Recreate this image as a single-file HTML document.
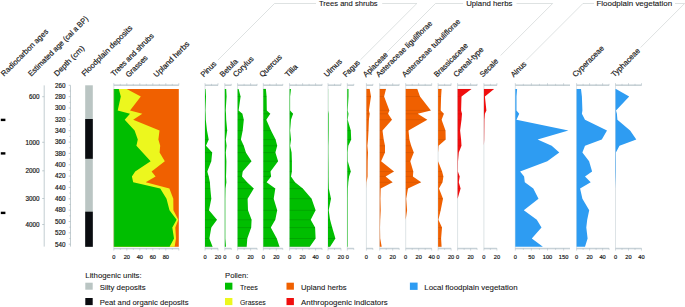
<!DOCTYPE html>
<html><head><meta charset="utf-8"><title>Pollen diagram</title>
<style>
html,body{margin:0;padding:0;background:#fff;}
body{width:685px;height:307px;overflow:hidden;font-family:"Liberation Sans",sans-serif;}
svg{display:block;}
text{font-family:"Liberation Sans",sans-serif;fill:#141414;stroke:#141414;stroke-width:0.18px;}
.ax{font-size:5.7px;}
.dp{font-size:6.3px;}
.hd{font-size:7.7px;}
.gp{font-size:7.8px;stroke-width:0.1px;}
.lg{font-size:7.7px;stroke-width:0.08px;}
</style></head><body>
<svg width="685" height="307" viewBox="0 0 685 307">
<rect x="0.8" y="118.7" width="4.6" height="2.4" fill="#000"/>
<rect x="0.8" y="152.2" width="4.6" height="2.4" fill="#000"/>
<rect x="0.8" y="211.7" width="4.6" height="2.4" fill="#000"/>
<path d="M44.2 85.4V246.6" stroke="#a9b8bd" stroke-width="0.7" fill="none"/>
<path d="M42.2 96.7H44.2" stroke="#a9b8bd" stroke-width="0.7"/>
<text x="39.5" y="99.0" class="dp" text-anchor="end">600</text>
<path d="M42.2 142.3H44.2" stroke="#a9b8bd" stroke-width="0.7"/>
<text x="39.5" y="144.6" class="dp" text-anchor="end">1000</text>
<path d="M42.2 170.8H44.2" stroke="#a9b8bd" stroke-width="0.7"/>
<text x="39.5" y="173.1" class="dp" text-anchor="end">2000</text>
<path d="M42.2 198.5H44.2" stroke="#a9b8bd" stroke-width="0.7"/>
<text x="39.5" y="200.8" class="dp" text-anchor="end">3000</text>
<path d="M42.2 224.5H44.2" stroke="#a9b8bd" stroke-width="0.7"/>
<text x="39.5" y="226.8" class="dp" text-anchor="end">4000</text>
<path d="M70.5 85.4V246.6" stroke="#a9b8bd" stroke-width="0.7" fill="none"/>
<path d="M70.5 85.30h-1.8M70.5 90.97h-1.1M70.5 96.65h-1.8M70.5 102.32h-1.1M70.5 108.00h-1.8M70.5 113.67h-1.1M70.5 119.35h-1.8M70.5 125.03h-1.1M70.5 130.70h-1.8M70.5 136.38h-1.1M70.5 142.05h-1.8M70.5 147.72h-1.1M70.5 153.40h-1.8M70.5 159.07h-1.1M70.5 164.75h-1.8M70.5 170.43h-1.1M70.5 176.10h-1.8M70.5 181.77h-1.1M70.5 187.45h-1.8M70.5 193.12h-1.1M70.5 198.80h-1.8M70.5 204.47h-1.1M70.5 210.15h-1.8M70.5 215.82h-1.1M70.5 221.50h-1.8M70.5 227.18h-1.1M70.5 232.85h-1.8M70.5 238.52h-1.1M70.5 244.20h-1.8" stroke="#a9b8bd" stroke-width="0.7" fill="none"/>
<text x="60.3" y="87.6" class="dp" text-anchor="middle">260</text>
<text x="60.3" y="98.9" class="dp" text-anchor="middle">280</text>
<text x="60.3" y="110.3" class="dp" text-anchor="middle">300</text>
<text x="60.3" y="121.6" class="dp" text-anchor="middle">320</text>
<text x="60.3" y="133.0" class="dp" text-anchor="middle">340</text>
<text x="60.3" y="144.4" class="dp" text-anchor="middle">360</text>
<text x="60.3" y="155.7" class="dp" text-anchor="middle">380</text>
<text x="60.3" y="167.1" class="dp" text-anchor="middle">400</text>
<text x="60.3" y="178.4" class="dp" text-anchor="middle">420</text>
<text x="60.3" y="189.8" class="dp" text-anchor="middle">440</text>
<text x="60.3" y="201.1" class="dp" text-anchor="middle">460</text>
<text x="60.3" y="212.4" class="dp" text-anchor="middle">480</text>
<text x="60.3" y="223.8" class="dp" text-anchor="middle">500</text>
<text x="60.3" y="235.1" class="dp" text-anchor="middle">520</text>
<text x="60.3" y="246.5" class="dp" text-anchor="middle">540</text>
<rect x="85.2" y="85.3" width="7.6" height="161.5" fill="#bac5c3"/>
<rect x="85.2" y="119.0" width="7.6" height="39.8" fill="#0a0c10"/>
<rect x="85.2" y="211.7" width="7.6" height="35.1" fill="#0a0c10"/>
<rect x="113.8" y="89.0" width="65.0" height="157.8" fill="#f06000"/>
<path d="M113.8 89.0L126.7 89.0L140.8 96.5L130.0 110.4L142.3 113.8L133.2 119.7L159.5 130.6L158.4 139.6L160.2 145.8L159.6 152.6L164.8 161.2L151.6 171.6L155.6 176.4L145.7 182.3L169.4 188.6L173.3 198.7L173.4 210.3L178.3 219.8L175.3 227.6L176.0 238.5L174.6 246.8L113.8 246.8Z" fill="#ecf71e"/>
<path d="M113.8 89.0L118.8 89.0L120.8 96.5L117.7 110.4L130.0 113.8L124.7 119.7L134.6 130.6L137.8 139.6L136.4 145.8L142.6 152.6L150.6 161.2L135.2 171.6L131.9 176.4L133.2 182.3L160.2 188.6L166.5 198.7L169.5 210.3L176.6 219.8L172.3 227.6L174.0 238.5L169.6 246.8L113.8 246.8Z" fill="#00be00"/>
<path d="M113.8 85.4H178.8M113.8 248.3H178.8" stroke="#a9b9c1" stroke-width="0.7" fill="none"/>
<path d="M113.8 85.4V248.3" stroke="#a9b9c1" stroke-width="0.5" fill="none" opacity="0.8"/>
<path d="M113.8 84.7H178.8M113.8 249.0H178.8" stroke="#a9b9c1" stroke-width="0.9" fill="none" opacity="0.45"/>
<path d="M113.80 85.4v-2.3M113.80 248.3v2.3M120.30 85.4v-1.6M120.30 248.3v1.6M126.80 85.4v-2.3M126.80 248.3v2.3M133.30 85.4v-1.6M133.30 248.3v1.6M139.80 85.4v-2.3M139.80 248.3v2.3M146.30 85.4v-1.6M146.30 248.3v1.6M152.80 85.4v-2.3M152.80 248.3v2.3M159.30 85.4v-1.6M159.30 248.3v1.6M165.80 85.4v-2.3M165.80 248.3v2.3M172.30 85.4v-1.6M172.30 248.3v1.6M178.80 85.4v-2.3M178.80 248.3v2.3" stroke="#a9b9c1" stroke-width="0.5" fill="none"/>
<text x="113.8" y="258.5" class="ax" text-anchor="middle">0</text>
<text x="126.8" y="258.5" class="ax" text-anchor="middle">20</text>
<text x="139.8" y="258.5" class="ax" text-anchor="middle">40</text>
<text x="152.8" y="258.5" class="ax" text-anchor="middle">60</text>
<text x="165.8" y="258.5" class="ax" text-anchor="middle">80</text>
<path d="M205.0 85.4H218.0M205.0 248.3H218.0" stroke="#a9b9c1" stroke-width="0.7" fill="none"/>
<path d="M205.0 85.4V248.3" stroke="#a9b9c1" stroke-width="0.5" fill="none" opacity="0.8"/>
<path d="M205.0 84.7H218.0M205.0 249.0H218.0" stroke="#a9b9c1" stroke-width="0.9" fill="none" opacity="0.45"/>
<path d="M205.00 85.4v-2.3M205.00 248.3v2.3M211.50 85.4v-1.6M211.50 248.3v1.6M218.00 85.4v-2.3M218.00 248.3v2.3" stroke="#a9b9c1" stroke-width="0.5" fill="none"/>
<text x="205.0" y="258.5" class="ax" text-anchor="middle">0</text>
<text x="218.0" y="258.5" class="ax" text-anchor="middle">20</text>
<path d="M205.0 89.0L205.5 89.0L206.0 96.5L205.4 110.4L205.6 113.8L205.8 119.7L207.0 130.6L208.7 139.6L206.0 145.8L212.2 152.6L211.3 161.2L207.3 171.6L208.7 176.4L209.9 182.3L210.3 188.6L211.3 198.7L209.0 210.3L217.0 219.8L211.3 227.6L209.4 238.5L212.6 246.8L205.0 246.8Z" fill="#00be00"/>
<path d="M205.0 139.6h3.7M205.0 152.6h7.2M205.0 161.2h6.3M205.0 171.6h2.3M205.0 176.4h3.7M205.0 182.3h4.9M205.0 188.6h5.3M205.0 198.7h6.3M205.0 210.3h4.0M205.0 219.8h12.0M205.0 227.6h6.3M205.0 238.5h4.4M205.0 246.8h7.6" stroke="#000" stroke-opacity="0.32" stroke-width="0.4" fill="none"/>
<text transform="translate(203.7 77.6) rotate(-45)" class="hd" textLength="18.6" lengthAdjust="spacingAndGlyphs">Pinus</text>
<path d="M224.8 85.4H231.3M224.8 248.3H231.3" stroke="#a9b9c1" stroke-width="0.7" fill="none"/>
<path d="M224.8 85.4V248.3" stroke="#a9b9c1" stroke-width="0.5" fill="none" opacity="0.8"/>
<path d="M224.8 84.7H231.3M224.8 249.0H231.3" stroke="#a9b9c1" stroke-width="0.9" fill="none" opacity="0.45"/>
<path d="M224.80 85.4v-2.3M224.80 248.3v2.3M231.30 85.4v-1.6M231.30 248.3v1.6" stroke="#a9b9c1" stroke-width="0.5" fill="none"/>
<text x="224.8" y="258.5" class="ax" text-anchor="middle">0</text>
<path d="M224.8 89.0L226.2 89.0L226.6 96.5L225.7 110.4L226.0 113.8L226.2 119.7L227.2 130.6L225.8 139.6L226.6 145.8L225.8 152.6L226.4 161.2L226.2 171.6L226.0 176.4L226.4 182.3L225.5 188.6L225.3 198.7L225.3 210.3L225.3 219.8L225.3 227.6L225.3 238.5L226.0 246.8L224.8 246.8Z" fill="#00be00"/>
<path d="M224.8 130.6h2.4" stroke="#000" stroke-opacity="0.32" stroke-width="0.4" fill="none"/>
<text transform="translate(222.8 77.6) rotate(-45)" class="hd" textLength="22.0" lengthAdjust="spacingAndGlyphs">Betula</text>
<path d="M237.6 85.4H257.1M237.6 248.3H257.1" stroke="#a9b9c1" stroke-width="0.7" fill="none"/>
<path d="M237.6 85.4V248.3" stroke="#a9b9c1" stroke-width="0.5" fill="none" opacity="0.8"/>
<path d="M237.6 84.7H257.1M237.6 249.0H257.1" stroke="#a9b9c1" stroke-width="0.9" fill="none" opacity="0.45"/>
<path d="M237.60 85.4v-2.3M237.60 248.3v2.3M244.10 85.4v-1.6M244.10 248.3v1.6M250.60 85.4v-2.3M250.60 248.3v2.3M257.10 85.4v-1.6M257.10 248.3v1.6" stroke="#a9b9c1" stroke-width="0.5" fill="none"/>
<text x="237.6" y="258.5" class="ax" text-anchor="middle">0</text>
<text x="250.6" y="258.5" class="ax" text-anchor="middle">20</text>
<path d="M237.6 89.0L238.6 89.0L240.6 96.5L238.6 110.4L242.4 113.8L243.8 119.7L242.7 130.6L240.9 139.6L243.8 145.8L245.9 152.6L251.5 161.2L242.7 171.6L242.0 176.4L247.1 182.3L253.8 188.6L247.6 198.7L248.0 210.3L251.6 219.8L251.2 227.6L247.3 238.5L246.7 246.8L237.6 246.8Z" fill="#00be00"/>
<path d="M237.6 96.5h3.0M237.6 113.8h4.8M237.6 119.7h6.2M237.6 130.6h5.1M237.6 139.6h3.3M237.6 145.8h6.2M237.6 152.6h8.3M237.6 161.2h13.9M237.6 171.6h5.1M237.6 176.4h4.4M237.6 182.3h9.5M237.6 188.6h16.2M237.6 198.7h10.0M237.6 210.3h10.4M237.6 219.8h14.0M237.6 227.6h13.6M237.6 238.5h9.7M237.6 246.8h9.1" stroke="#000" stroke-opacity="0.32" stroke-width="0.4" fill="none"/>
<text transform="translate(236.0 77.6) rotate(-45)" class="hd" textLength="25.7" lengthAdjust="spacingAndGlyphs">Corylus</text>
<path d="M263.3 85.4H282.8M263.3 248.3H282.8" stroke="#a9b9c1" stroke-width="0.7" fill="none"/>
<path d="M263.3 85.4V248.3" stroke="#a9b9c1" stroke-width="0.5" fill="none" opacity="0.8"/>
<path d="M263.3 84.7H282.8M263.3 249.0H282.8" stroke="#a9b9c1" stroke-width="0.9" fill="none" opacity="0.45"/>
<path d="M263.30 85.4v-2.3M263.30 248.3v2.3M269.80 85.4v-1.6M269.80 248.3v1.6M276.30 85.4v-2.3M276.30 248.3v2.3M282.80 85.4v-1.6M282.80 248.3v1.6" stroke="#a9b9c1" stroke-width="0.5" fill="none"/>
<text x="263.3" y="258.5" class="ax" text-anchor="middle">0</text>
<text x="276.3" y="258.5" class="ax" text-anchor="middle">20</text>
<path d="M263.3 89.0L265.9 89.0L266.6 96.5L266.8 110.4L270.3 113.8L266.3 119.7L271.0 130.6L275.6 139.6L277.2 145.8L275.4 152.6L278.1 161.2L270.5 171.6L271.1 176.4L266.6 182.3L275.3 188.6L273.7 198.7L277.2 210.3L275.3 219.8L270.8 227.6L276.8 238.5L279.5 246.8L263.3 246.8Z" fill="#00be00"/>
<path d="M263.3 89.0h2.6M263.3 96.5h3.3M263.3 110.4h3.5M263.3 113.8h7.0M263.3 119.7h3.0M263.3 130.6h7.7M263.3 139.6h12.3M263.3 145.8h13.9M263.3 152.6h12.1M263.3 161.2h14.8M263.3 171.6h7.2M263.3 176.4h7.8M263.3 182.3h3.3M263.3 188.6h12.0M263.3 198.7h10.4M263.3 210.3h13.9M263.3 219.8h12.0M263.3 227.6h7.5M263.3 238.5h13.5M263.3 246.8h16.2" stroke="#000" stroke-opacity="0.32" stroke-width="0.4" fill="none"/>
<text transform="translate(262.4 77.6) rotate(-45)" class="hd" textLength="28.4" lengthAdjust="spacingAndGlyphs">Quercus</text>
<path d="M289.6 85.4H322.1M289.6 248.3H322.1" stroke="#a9b9c1" stroke-width="0.7" fill="none"/>
<path d="M289.6 85.4V248.3" stroke="#a9b9c1" stroke-width="0.5" fill="none" opacity="0.8"/>
<path d="M289.6 84.7H322.1M289.6 249.0H322.1" stroke="#a9b9c1" stroke-width="0.9" fill="none" opacity="0.45"/>
<path d="M289.60 85.4v-2.3M289.60 248.3v2.3M296.10 85.4v-1.6M296.10 248.3v1.6M302.60 85.4v-2.3M302.60 248.3v2.3M309.10 85.4v-1.6M309.10 248.3v1.6M315.60 85.4v-2.3M315.60 248.3v2.3M322.10 85.4v-1.6M322.10 248.3v1.6" stroke="#a9b9c1" stroke-width="0.5" fill="none"/>
<text x="289.6" y="258.5" class="ax" text-anchor="middle">0</text>
<text x="302.6" y="258.5" class="ax" text-anchor="middle">20</text>
<text x="315.6" y="258.5" class="ax" text-anchor="middle">40</text>
<path d="M289.6 89.0L291.0 89.0L290.1 96.5L290.1 110.4L293.1 113.8L291.0 119.7L290.1 130.6L291.0 139.6L290.1 145.8L291.6 152.6L291.9 161.2L291.9 171.6L291.0 176.4L295.0 182.3L302.8 188.6L311.6 198.7L315.6 210.3L310.7 219.8L315.1 227.6L315.6 238.5L309.8 246.8L289.6 246.8Z" fill="#00be00"/>
<path d="M289.6 113.8h3.5M289.6 161.2h2.3M289.6 171.6h2.3M289.6 182.3h5.4M289.6 188.6h13.2M289.6 198.7h22.0M289.6 210.3h26.0M289.6 219.8h21.1M289.6 227.6h25.5M289.6 238.5h26.0M289.6 246.8h20.2" stroke="#000" stroke-opacity="0.32" stroke-width="0.4" fill="none"/>
<text transform="translate(287.9 77.6) rotate(-45)" class="hd" textLength="14.4" lengthAdjust="spacingAndGlyphs">Tilia</text>
<path d="M328.0 85.4H341.0M328.0 248.3H341.0" stroke="#a9b9c1" stroke-width="0.7" fill="none"/>
<path d="M328.0 85.4V248.3" stroke="#a9b9c1" stroke-width="0.5" fill="none" opacity="0.8"/>
<path d="M328.0 84.7H341.0M328.0 249.0H341.0" stroke="#a9b9c1" stroke-width="0.9" fill="none" opacity="0.45"/>
<path d="M328.00 85.4v-2.3M328.00 248.3v2.3M334.50 85.4v-1.6M334.50 248.3v1.6M341.00 85.4v-2.3M341.00 248.3v2.3" stroke="#a9b9c1" stroke-width="0.5" fill="none"/>
<text x="328.0" y="258.5" class="ax" text-anchor="middle">0</text>
<text x="341.0" y="258.5" class="ax" text-anchor="middle">20</text>
<path d="M328.0 89.0L328.1 89.0L328.1 96.5L328.1 110.4L328.6 113.8L328.6 119.7L328.6 130.6L328.5 139.6L328.3 145.8L328.3 152.6L328.4 161.2L328.5 171.6L328.5 176.4L328.6 182.3L328.8 188.6L331.0 198.7L328.7 210.3L330.1 219.8L332.2 227.6L335.4 238.5L330.1 246.8L328.0 246.8Z" fill="#00be00"/>
<path d="M328.0 198.7h3.0M328.0 219.8h2.1M328.0 227.6h4.2M328.0 238.5h7.4M328.0 246.8h2.1" stroke="#000" stroke-opacity="0.32" stroke-width="0.4" fill="none"/>
<text transform="translate(326.9 77.6) rotate(-45)" class="hd" textLength="22.2" lengthAdjust="spacingAndGlyphs">Ulmus</text>
<path d="M347.3 85.4H353.8M347.3 248.3H353.8" stroke="#a9b9c1" stroke-width="0.7" fill="none"/>
<path d="M347.3 85.4V248.3" stroke="#a9b9c1" stroke-width="0.5" fill="none" opacity="0.8"/>
<path d="M347.3 84.7H353.8M347.3 249.0H353.8" stroke="#a9b9c1" stroke-width="0.9" fill="none" opacity="0.45"/>
<path d="M347.30 85.4v-2.3M347.30 248.3v2.3M353.80 85.4v-1.6M353.80 248.3v1.6" stroke="#a9b9c1" stroke-width="0.5" fill="none"/>
<text x="347.3" y="258.5" class="ax" text-anchor="middle">0</text>
<path d="M347.3 89.0L348.5 89.0L348.5 96.5L347.7 110.4L348.5 113.8L347.7 119.7L350.8 130.6L351.2 139.6L348.3 145.8L347.7 152.6L347.8 161.2L350.8 171.6L349.1 176.4L348.3 182.3L347.9 188.6L347.8 198.7L347.8 210.3L347.8 219.8L347.8 227.6L347.8 238.5L347.8 246.8L347.3 246.8Z" fill="#00be00"/>
<path d="M347.3 130.6h3.5M347.3 139.6h3.9M347.3 171.6h3.5" stroke="#000" stroke-opacity="0.32" stroke-width="0.4" fill="none"/>
<text transform="translate(345.9 77.6) rotate(-45)" class="hd" textLength="20.6" lengthAdjust="spacingAndGlyphs">Fagus</text>
<path d="M366.4 85.4H372.9M366.4 248.3H372.9" stroke="#a9b9c1" stroke-width="0.7" fill="none"/>
<path d="M366.4 85.4V248.3" stroke="#a9b9c1" stroke-width="0.5" fill="none" opacity="0.8"/>
<path d="M366.4 84.7H372.9M366.4 249.0H372.9" stroke="#a9b9c1" stroke-width="0.9" fill="none" opacity="0.45"/>
<path d="M366.40 85.4v-2.3M366.40 248.3v2.3M372.90 85.4v-1.6M372.90 248.3v1.6" stroke="#a9b9c1" stroke-width="0.5" fill="none"/>
<text x="366.4" y="258.5" class="ax" text-anchor="middle">0</text>
<path d="M366.4 89.0L369.7 89.0L371.0 96.5L368.9 110.4L369.7 113.8L368.9 119.7L368.5 130.6L368.0 139.6L367.4 145.8L368.0 152.6L367.7 161.2L367.6 171.6L367.6 176.4L366.6 182.3L366.4 188.6L366.4 198.7L366.4 210.3L366.4 219.8L366.4 227.6L366.4 238.5L366.4 246.8L366.4 246.8Z" fill="#f06000"/>
<path d="M366.4 89.0h3.3M366.4 96.5h4.6M366.4 110.4h2.5M366.4 113.8h3.3M366.4 119.7h2.5M366.4 130.6h2.1" stroke="#000" stroke-opacity="0.2" stroke-width="0.4" fill="none"/>
<text transform="translate(366.1 77.6) rotate(-45)" class="hd" textLength="31.4" lengthAdjust="spacingAndGlyphs">Apiaceae</text>
<path d="M379.7 85.4H399.2M379.7 248.3H399.2" stroke="#a9b9c1" stroke-width="0.7" fill="none"/>
<path d="M379.7 85.4V248.3" stroke="#a9b9c1" stroke-width="0.5" fill="none" opacity="0.8"/>
<path d="M379.7 84.7H399.2M379.7 249.0H399.2" stroke="#a9b9c1" stroke-width="0.9" fill="none" opacity="0.45"/>
<path d="M379.70 85.4v-2.3M379.70 248.3v2.3M386.20 85.4v-1.6M386.20 248.3v1.6M392.70 85.4v-2.3M392.70 248.3v2.3M399.20 85.4v-1.6M399.20 248.3v1.6" stroke="#a9b9c1" stroke-width="0.5" fill="none"/>
<text x="379.7" y="258.5" class="ax" text-anchor="middle">0</text>
<text x="392.7" y="258.5" class="ax" text-anchor="middle">20</text>
<path d="M379.7 89.0L386.0 89.0L384.1 96.5L389.4 110.4L388.1 113.8L392.0 119.7L382.5 130.6L383.7 139.6L385.0 145.8L385.0 152.6L381.1 161.2L394.0 171.6L385.6 176.4L392.6 182.3L380.7 188.6L380.4 198.7L380.7 210.3L380.2 219.8L380.0 227.6L380.2 238.5L381.7 246.8L379.7 246.8Z" fill="#f06000"/>
<path d="M379.7 89.0h6.3M379.7 96.5h4.4M379.7 110.4h9.7M379.7 113.8h8.4M379.7 119.7h12.3M379.7 130.6h2.8M379.7 139.6h4.0M379.7 145.8h5.3M379.7 152.6h5.3M379.7 171.6h14.3M379.7 176.4h5.9M379.7 182.3h12.9" stroke="#000" stroke-opacity="0.2" stroke-width="0.4" fill="none"/>
<text transform="translate(379.1 77.6) rotate(-45)" class="hd" textLength="75.9" lengthAdjust="spacingAndGlyphs">Asteraceae liguliflorae</text>
<path d="M405.7 85.4H431.7M405.7 248.3H431.7" stroke="#a9b9c1" stroke-width="0.7" fill="none"/>
<path d="M405.7 85.4V248.3" stroke="#a9b9c1" stroke-width="0.5" fill="none" opacity="0.8"/>
<path d="M405.7 84.7H431.7M405.7 249.0H431.7" stroke="#a9b9c1" stroke-width="0.9" fill="none" opacity="0.45"/>
<path d="M405.70 85.4v-2.3M405.70 248.3v2.3M412.20 85.4v-1.6M412.20 248.3v1.6M418.70 85.4v-2.3M418.70 248.3v2.3M425.20 85.4v-1.6M425.20 248.3v1.6M431.70 85.4v-2.3M431.70 248.3v2.3" stroke="#a9b9c1" stroke-width="0.5" fill="none"/>
<text x="405.7" y="258.5" class="ax" text-anchor="middle">0</text>
<text x="418.7" y="258.5" class="ax" text-anchor="middle">20</text>
<text x="431.7" y="258.5" class="ax" text-anchor="middle">40</text>
<path d="M405.7 89.0L417.3 89.0L420.0 96.5L430.9 110.4L417.7 113.8L427.3 119.7L408.5 130.6L409.4 139.6L411.2 145.8L413.8 152.6L410.3 161.2L413.3 171.6L412.9 176.4L421.2 182.3L408.0 188.6L406.2 198.7L407.1 210.3L405.7 219.8L405.7 227.6L405.7 238.5L405.7 246.8L405.7 246.8Z" fill="#f06000"/>
<path d="M405.7 89.0h11.6M405.7 96.5h14.3M405.7 110.4h25.2M405.7 113.8h12.0M405.7 119.7h21.6M405.7 130.6h2.8M405.7 139.6h3.7M405.7 145.8h5.5M405.7 152.6h8.1M405.7 161.2h4.6M405.7 171.6h7.6M405.7 176.4h7.2M405.7 182.3h15.5M405.7 188.6h2.3" stroke="#000" stroke-opacity="0.2" stroke-width="0.4" fill="none"/>
<text transform="translate(405.1 77.6) rotate(-45)" class="hd" textLength="78.8" lengthAdjust="spacingAndGlyphs">Asteraceae tubuliflorae</text>
<path d="M438.1 85.4H451.1M438.1 248.3H451.1" stroke="#a9b9c1" stroke-width="0.7" fill="none"/>
<path d="M438.1 85.4V248.3" stroke="#a9b9c1" stroke-width="0.5" fill="none" opacity="0.8"/>
<path d="M438.1 84.7H451.1M438.1 249.0H451.1" stroke="#a9b9c1" stroke-width="0.9" fill="none" opacity="0.45"/>
<path d="M438.10 85.4v-2.3M438.10 248.3v2.3M444.60 85.4v-1.6M444.60 248.3v1.6M451.10 85.4v-2.3M451.10 248.3v2.3" stroke="#a9b9c1" stroke-width="0.5" fill="none"/>
<text x="438.1" y="258.5" class="ax" text-anchor="middle">0</text>
<text x="451.1" y="258.5" class="ax" text-anchor="middle">20</text>
<path d="M438.1 89.0L441.6 89.0L441.1 96.5L440.7 110.4L443.9 113.8L441.6 119.7L445.5 130.6L445.7 139.6L438.6 145.8L438.1 152.6L438.1 161.2L442.1 171.6L443.4 176.4L442.5 182.3L439.0 188.6L443.0 198.7L440.7 210.3L438.4 219.8L442.0 227.6L441.1 238.5L441.6 246.8L438.1 246.8Z" fill="#f06000"/>
<path d="M438.1 89.0h3.5M438.1 96.5h3.0M438.1 110.4h2.6M438.1 113.8h5.8M438.1 119.7h3.5M438.1 130.6h7.4M438.1 139.6h7.6M438.1 171.6h4.0M438.1 176.4h5.3M438.1 182.3h4.4M438.1 198.7h4.9M438.1 210.3h2.6M438.1 227.6h3.9M438.1 238.5h3.0M438.1 246.8h3.5" stroke="#000" stroke-opacity="0.2" stroke-width="0.4" fill="none"/>
<text transform="translate(437.0 77.6) rotate(-45)" class="hd" textLength="44.4" lengthAdjust="spacingAndGlyphs">Brassicaceae</text>
<path d="M457.6 85.4H477.1M457.6 248.3H477.1" stroke="#a9b9c1" stroke-width="0.7" fill="none"/>
<path d="M457.6 85.4V248.3" stroke="#a9b9c1" stroke-width="0.5" fill="none" opacity="0.8"/>
<path d="M457.6 84.7H477.1M457.6 249.0H477.1" stroke="#a9b9c1" stroke-width="0.9" fill="none" opacity="0.45"/>
<path d="M457.60 85.4v-2.3M457.60 248.3v2.3M464.10 85.4v-1.6M464.10 248.3v1.6M470.60 85.4v-2.3M470.60 248.3v2.3M477.10 85.4v-1.6M477.10 248.3v1.6" stroke="#a9b9c1" stroke-width="0.5" fill="none"/>
<text x="457.6" y="258.5" class="ax" text-anchor="middle">0</text>
<text x="470.6" y="258.5" class="ax" text-anchor="middle">20</text>
<path d="M457.6 89.0L471.5 89.0L461.5 96.5L461.1 110.4L462.0 113.8L461.5 119.7L460.1 130.6L461.1 139.6L461.5 145.8L458.8 152.6L458.0 161.2L457.9 171.6L459.7 176.4L458.8 182.3L460.6 188.6L457.6 198.7L457.6 210.3L457.6 219.8L457.6 227.6L457.6 238.5L457.6 246.8L457.6 246.8Z" fill="#f00e0e"/>
<path d="M457.6 89.0h13.9M457.6 96.5h3.9M457.6 110.4h3.5M457.6 113.8h4.4M457.6 119.7h3.9M457.6 130.6h2.5M457.6 139.6h3.5M457.6 145.8h3.9M457.6 176.4h2.1M457.6 188.6h3.0" stroke="#000" stroke-opacity="0.12" stroke-width="0.4" fill="none"/>
<text transform="translate(456.4 77.6) rotate(-45)" class="hd" textLength="39.1" lengthAdjust="spacingAndGlyphs">Cereal-type</text>
<path d="M483.9 85.4H496.9M483.9 248.3H496.9" stroke="#a9b9c1" stroke-width="0.7" fill="none"/>
<path d="M483.9 85.4V248.3" stroke="#a9b9c1" stroke-width="0.5" fill="none" opacity="0.8"/>
<path d="M483.9 84.7H496.9M483.9 249.0H496.9" stroke="#a9b9c1" stroke-width="0.9" fill="none" opacity="0.45"/>
<path d="M483.90 85.4v-2.3M483.90 248.3v2.3M490.40 85.4v-1.6M490.40 248.3v1.6M496.90 85.4v-2.3M496.90 248.3v2.3" stroke="#a9b9c1" stroke-width="0.5" fill="none"/>
<text x="483.9" y="258.5" class="ax" text-anchor="middle">0</text>
<text x="496.9" y="258.5" class="ax" text-anchor="middle">20</text>
<path d="M483.9 89.0L494.1 89.0L484.9 96.5L486.4 110.4L484.9 113.8L484.4 119.7L484.3 130.6L484.2 139.6L483.9 145.8L483.9 152.6L483.9 161.2L483.9 171.6L483.9 176.4L483.9 182.3L483.9 188.6L483.9 198.7L483.9 210.3L483.9 219.8L483.9 227.6L483.9 238.5L483.9 246.8L483.9 246.8Z" fill="#f00e0e"/>
<path d="M483.9 89.0h10.2M483.9 110.4h2.5" stroke="#000" stroke-opacity="0.12" stroke-width="0.4" fill="none"/>
<text transform="translate(482.8 77.6) rotate(-45)" class="hd" textLength="22.5" lengthAdjust="spacingAndGlyphs">Secale</text>
<path d="M515.3 85.4H570.0M515.3 248.3H570.0" stroke="#a9b9c1" stroke-width="0.7" fill="none"/>
<path d="M515.3 85.4V248.3" stroke="#a9b9c1" stroke-width="0.5" fill="none" opacity="0.8"/>
<path d="M515.3 84.7H570.0M515.3 249.0H570.0" stroke="#a9b9c1" stroke-width="0.9" fill="none" opacity="0.45"/>
<path d="M515.30 85.4v-2.3M515.30 248.3v2.3M523.35 85.4v-1.6M523.35 248.3v1.6M531.40 85.4v-2.3M531.40 248.3v2.3M539.45 85.4v-1.6M539.45 248.3v1.6M547.50 85.4v-2.3M547.50 248.3v2.3M555.55 85.4v-1.6M555.55 248.3v1.6M563.60 85.4v-2.3M563.60 248.3v2.3" stroke="#a9b9c1" stroke-width="0.5" fill="none"/>
<text x="515.3" y="258.5" class="ax" text-anchor="middle">0</text>
<text x="531.4" y="258.5" class="ax" text-anchor="middle">50</text>
<text x="547.5" y="258.5" class="ax" text-anchor="middle">100</text>
<text x="563.6" y="258.5" class="ax" text-anchor="middle">150</text>
<path d="M515.3 89.0L517.1 89.0L516.5 96.5L516.5 110.4L519.2 113.8L516.5 119.7L568.4 130.6L537.6 139.6L551.7 145.8L559.3 152.6L547.3 161.2L520.1 171.6L524.1 176.4L524.8 182.3L533.3 188.6L538.5 198.7L523.8 210.3L536.8 219.8L541.5 227.6L531.8 238.5L542.9 246.8L515.3 246.8Z" fill="#2e9cf2"/>
<text transform="translate(513.8 77.6) rotate(-45)" class="hd" textLength="18.4" lengthAdjust="spacingAndGlyphs">Alnus</text>
<path d="M576.6 85.4H609.1M576.6 248.3H609.1" stroke="#a9b9c1" stroke-width="0.7" fill="none"/>
<path d="M576.6 85.4V248.3" stroke="#a9b9c1" stroke-width="0.5" fill="none" opacity="0.8"/>
<path d="M576.6 84.7H609.1M576.6 249.0H609.1" stroke="#a9b9c1" stroke-width="0.9" fill="none" opacity="0.45"/>
<path d="M576.60 85.4v-2.3M576.60 248.3v2.3M583.10 85.4v-1.6M583.10 248.3v1.6M589.60 85.4v-2.3M589.60 248.3v2.3M596.10 85.4v-1.6M596.10 248.3v1.6M602.60 85.4v-2.3M602.60 248.3v2.3M609.10 85.4v-1.6M609.10 248.3v1.6" stroke="#a9b9c1" stroke-width="0.5" fill="none"/>
<text x="576.6" y="258.5" class="ax" text-anchor="middle">0</text>
<text x="589.6" y="258.5" class="ax" text-anchor="middle">20</text>
<text x="602.6" y="258.5" class="ax" text-anchor="middle">40</text>
<path d="M576.6 89.0L581.0 89.0L581.9 96.5L582.4 110.4L581.9 113.8L585.0 119.7L607.0 130.6L601.8 139.6L585.0 145.8L582.4 152.6L589.1 161.2L592.1 171.6L585.0 176.4L590.7 182.3L580.1 188.6L582.4 198.7L589.2 210.3L587.2 219.8L586.3 227.6L587.6 238.5L585.0 246.8L576.6 246.8Z" fill="#2e9cf2"/>
<text transform="translate(575.6 77.6) rotate(-45)" class="hd" textLength="40.9" lengthAdjust="spacingAndGlyphs">Cyperaceae</text>
<path d="M615.5 85.4H641.5M615.5 248.3H641.5" stroke="#a9b9c1" stroke-width="0.7" fill="none"/>
<path d="M615.5 85.4V248.3" stroke="#a9b9c1" stroke-width="0.5" fill="none" opacity="0.8"/>
<path d="M615.5 84.7H641.5M615.5 249.0H641.5" stroke="#a9b9c1" stroke-width="0.9" fill="none" opacity="0.45"/>
<path d="M615.50 85.4v-2.3M615.50 248.3v2.3M622.00 85.4v-1.6M622.00 248.3v1.6M628.50 85.4v-2.3M628.50 248.3v2.3M635.00 85.4v-1.6M635.00 248.3v1.6M641.50 85.4v-2.3M641.50 248.3v2.3" stroke="#a9b9c1" stroke-width="0.5" fill="none"/>
<text x="615.5" y="258.5" class="ax" text-anchor="middle">0</text>
<text x="628.5" y="258.5" class="ax" text-anchor="middle">20</text>
<text x="641.5" y="258.5" class="ax" text-anchor="middle">40</text>
<path d="M615.5 89.0L616.0 89.0L629.2 96.5L616.0 110.4L616.9 113.8L617.4 119.7L630.1 130.6L636.3 139.6L619.5 145.8L615.9 152.6L616.0 161.2L616.0 171.6L615.9 176.4L615.7 182.3L615.5 188.6L615.5 198.7L615.5 210.3L615.5 219.8L615.5 227.6L615.5 238.5L615.5 246.8L615.5 246.8Z" fill="#2e9cf2"/>
<text transform="translate(614.3 77.6) rotate(-45)" class="hd" textLength="37.1" lengthAdjust="spacingAndGlyphs">Typhaceae</text>
<text transform="translate(4.1 76.7) rotate(-45)" class="hd" textLength="63.1" lengthAdjust="spacingAndGlyphs">Radiocarbon ages</text>
<text transform="translate(31.3 76.7) rotate(-45)" class="hd" textLength="81.2" lengthAdjust="spacingAndGlyphs">Estimated age (cal a BP)</text>
<text transform="translate(56.9 76.7) rotate(-45)" class="hd" textLength="39.6" lengthAdjust="spacingAndGlyphs">Depth (cm)</text>
<text transform="translate(84.7 76.7) rotate(-45)" class="hd" textLength="68.1" lengthAdjust="spacingAndGlyphs">Floodplain deposits</text>
<text transform="translate(114.0 76.7) rotate(-45)" class="hd" textLength="56.9" lengthAdjust="spacingAndGlyphs">Trees and shrubs</text>
<text transform="translate(128.7 77.8) rotate(-45)" class="hd" textLength="27.6" lengthAdjust="spacingAndGlyphs">Grasses</text>
<text transform="translate(156.6 77.8) rotate(-45)" class="hd" textLength="47.1" lengthAdjust="spacingAndGlyphs">Upland herbs</text>
<path d="M217.9 60.1L274.5 3.5H316" stroke="#bcc4c4" stroke-width="0.5" fill="none"/>
<path d="M382.2 3.5H416.8L360.4 59.9" stroke="#bcc4c4" stroke-width="0.5" fill="none"/>
<path d="M387 52.0L435.5 3.5H463.2" stroke="#bcc4c4" stroke-width="0.5" fill="none"/>
<path d="M516.5 3.5H552.6L500.6 55.5" stroke="#bcc4c4" stroke-width="0.5" fill="none"/>
<path d="M526.3 60.1L582.9 3.5H594" stroke="#bcc4c4" stroke-width="0.5" fill="none"/>
<path d="M675 3.5H684.6L640.6 47.5" stroke="#bcc4c4" stroke-width="0.5" fill="none"/>
<text x="348.3" y="6.2" class="gp" text-anchor="middle" textLength="58.7" lengthAdjust="spacingAndGlyphs">Trees and shrubs</text>
<text x="489.3" y="6.2" class="gp" text-anchor="middle" textLength="46.3" lengthAdjust="spacingAndGlyphs">Upland herbs</text>
<text x="634.3" y="6.2" class="gp" text-anchor="middle" textLength="75.7" lengthAdjust="spacingAndGlyphs">Floodplain vegetation</text>
<text x="85.3" y="277.8" class="lg" textLength="56.4" lengthAdjust="spacingAndGlyphs">Lithogenic units:</text>
<rect x="85.3" y="282.7" width="7.4" height="7.0" fill="#bac5c3"/>
<text x="99.7" y="289.5" class="lg" textLength="46.0" lengthAdjust="spacingAndGlyphs">Silty deposits</text>
<rect x="85.3" y="298.0" width="7.4" height="7.1" fill="#0a0c10"/>
<text x="99.7" y="304.8" class="lg" textLength="88.8" lengthAdjust="spacingAndGlyphs">Peat and organic deposits</text>
<text x="225" y="277.8" class="lg">Pollen:</text>
<rect x="225" y="282.7" width="7.4" height="7.0" fill="#00be00"/>
<text x="240" y="289.5" class="lg" textLength="17.8" lengthAdjust="spacingAndGlyphs">Trees</text>
<rect x="225" y="298.0" width="7.4" height="7.1" fill="#ecf71e"/>
<text x="240" y="304.8" class="lg" textLength="25.7" lengthAdjust="spacingAndGlyphs">Grasses</text>
<rect x="286.5" y="282.7" width="7.4" height="7.0" fill="#f06000"/>
<text x="301.1" y="289.5" class="lg" textLength="45.5" lengthAdjust="spacingAndGlyphs">Upland herbs</text>
<rect x="286.5" y="298.0" width="7.4" height="7.1" fill="#f00e0e"/>
<text x="301.1" y="304.8" class="lg" textLength="86.7" lengthAdjust="spacingAndGlyphs">Anthropogenic indicators</text>
<rect x="409.9" y="282.6" width="7.7" height="7.3" fill="#2e9cf2"/>
<text x="424.3" y="289.5" class="lg" textLength="93.3" lengthAdjust="spacingAndGlyphs">Local floodplain vegetation</text>
</svg>
</body></html>
